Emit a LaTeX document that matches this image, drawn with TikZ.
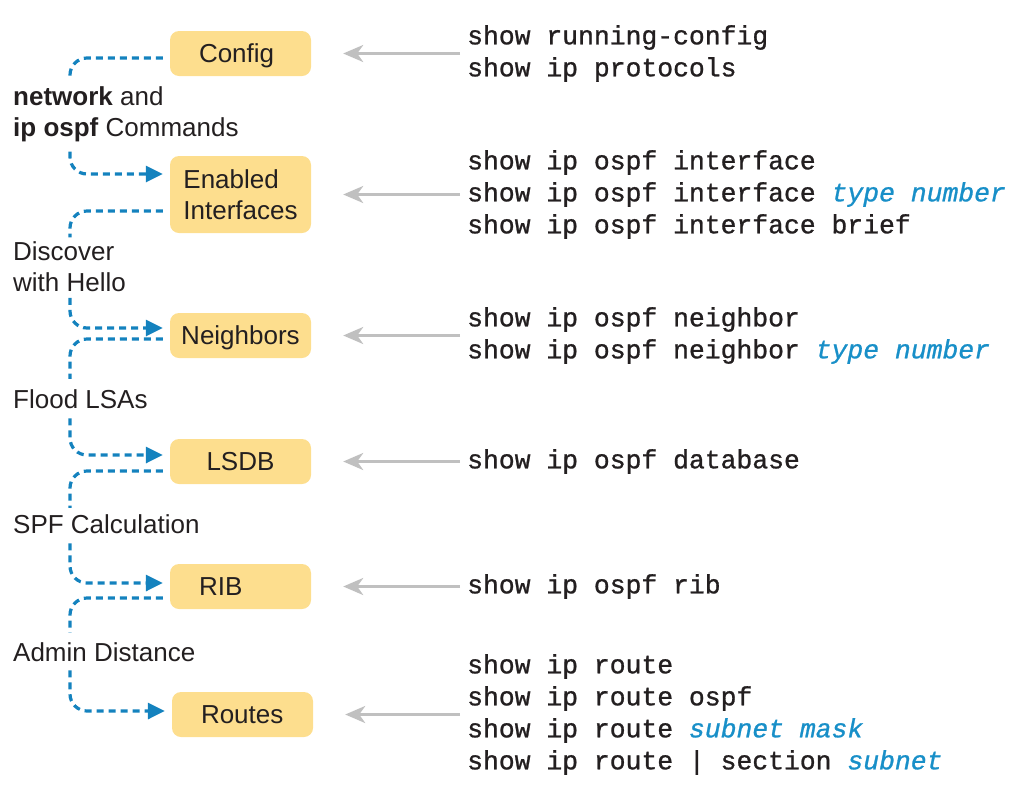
\documentclass[tikz,border=0pt]{standalone}
\usepackage{fontspec}
\setmainfont{Liberation Sans}
\setmonofont[FakeBold=1]{Liberation Mono}
\usetikzlibrary{arrows.meta,calc}

\definecolor{boxfill}{RGB}{253,222,142}
\definecolor{flowblue}{RGB}{20,130,190}
\definecolor{cmdblue}{RGB}{24,143,200}
\definecolor{arrowgray}{RGB}{192,192,192}
\definecolor{ink}{RGB}{35,31,32}

\newcommand{\cmdarg}[1]{\textit{\color{cmdblue}#1}}

\begin{document}
\begin{tikzpicture}[x=1pt,y=-1pt,
  stage/.style={fill=boxfill, rounded corners=9pt, minimum width=141pt,
    minimum height=45pt, inner sep=0pt, text=ink,
    font=\fontsize{26}{31}\selectfont},
  oneline/.style={text height=18.6pt, text depth=0pt},
  note/.style={anchor=west, align=left, inner sep=0pt, text=ink,
    font=\fontsize{26}{31}\selectfont},
  cmd/.style={anchor=west, align=left, inner xsep=7pt, inner ysep=0pt,
    text=ink, font=\ttfamily\fontsize{26.4}{32}\selectfont},
  flow/.style={flowblue, line width=3.2pt, dash pattern=on 7pt off 5pt,
    rounded corners=17pt},
  flowtip/.style={flow, -{Triangle[length=17pt,width=16pt]}},
  lookup/.style={arrowgray, line width=3pt,
    -{Stealth[length=20pt,width=17pt,inset=6pt]}, shorten >=32pt},
]
\useasboundingbox (0,0) rectangle (1035,788);

% OSPF stages
\node[stage, oneline] (cfg)  at (240.5,53.5)  {\makebox[83pt][l]{Config}};
\node[stage, minimum height=77pt, align=left] (en) at (240.5,194.5) {Enabled\\Interfaces};
\node[stage, oneline] (nb)   at (240.5,335.5) {Neighbors};
\node[stage, oneline] (lsdb) at (240.5,461.5) {LSDB};
\node[stage, oneline] (rib)  at (240.5,586.5) {\makebox[83pt][l]{RIB}};
\node[stage, oneline] (rt)   at (242.5,714.5) {\makebox[83pt][l]{Routes}};

% transitions between stages
\node[note] (l1) at (13,114.75) {\textbf{network} and\\\textbf{ip ospf} Commands};
\node[note] (l2) at (13,266.5)  {Discover\\with Hello};
\node[note] (l3) at (13,399.5)  {Flood LSAs};
\node[note] (l4) at (13,524.5)  {SPF Calculation};
\node[note] (l5) at (13,652.5)  {Admin Distance};

\coordinate (vx) at (70,0);

\draw[flow] ([xshift=-7pt,yshift=-4.5pt]cfg.west) -| ($(l1.north -| vx)+(0,-7)$);
\draw[flowtip] ($(l1.south -| vx)+(0,9)$) |- ([xshift=-7pt,yshift=20.5pt]en.west);

\draw[flow] ([xshift=-7pt,yshift=-16.5pt]en.west) -| ($(l2.north -| vx)+(0,-4)$);
\draw[flowtip] ($(l2.south -| vx)+(0,6)$) |- ([xshift=-7pt,yshift=7.5pt]nb.west);

\draw[flow] ([xshift=-7pt,yshift=-3.5pt]nb.west) -| ($(l3.north -| vx)+(0,-11)$);
\draw[flowtip] ($(l3.south -| vx)+(0,9)$) |- ([xshift=-7pt,yshift=6.5pt]lsdb.west);

\draw[flow] ([xshift=-7pt,yshift=-9.5pt]lsdb.west) -| ($(l4.north -| vx)+(0,-7)$);
\draw[flowtip] ($(l4.south -| vx)+(0,9)$) |- ([xshift=-7pt,yshift=3.5pt]rib.west);

\draw[flow] ([xshift=-7pt,yshift=-11.5pt]rib.west) -| ($(l5.north -| vx)+(0,-10)$);
\draw[flowtip] ($(l5.south -| vx)+(0,8)$) |- ([xshift=-7pt,yshift=3.5pt]rt.west);

% show commands for each stage
\node[cmd] (k1) at (460,53.5)  {show running-config\\show ip protocols};
\node[cmd] (k2) at (460,194.5) {show ip ospf interface\\show ip ospf interface \cmdarg{type number}\\show ip ospf interface brief};
\node[cmd] (k3) at (460,335.5) {show ip ospf neighbor\\show ip ospf neighbor \cmdarg{type number}};
\node[cmd] (k4) at (460,461.5) {show ip ospf database};
\node[cmd] (k5) at (460,586.5) {show ip ospf rib};
\node[cmd] (k6) at (460,714.5) {show ip route\\show ip route ospf\\show ip route \cmdarg{subnet mask}\\show ip route | section \cmdarg{subnet}};

\draw[lookup] (k1.west) -- (cfg.east);
\draw[lookup] (k2.west) -- (en.east);
\draw[lookup] (k3.west) -- (nb.east);
\draw[lookup] (k4.west) -- (lsdb.east);
\draw[lookup] (k5.west) -- (rib.east);
\draw[lookup] (k6.west) -- (rt.east);
\end{tikzpicture}
\end{document}
